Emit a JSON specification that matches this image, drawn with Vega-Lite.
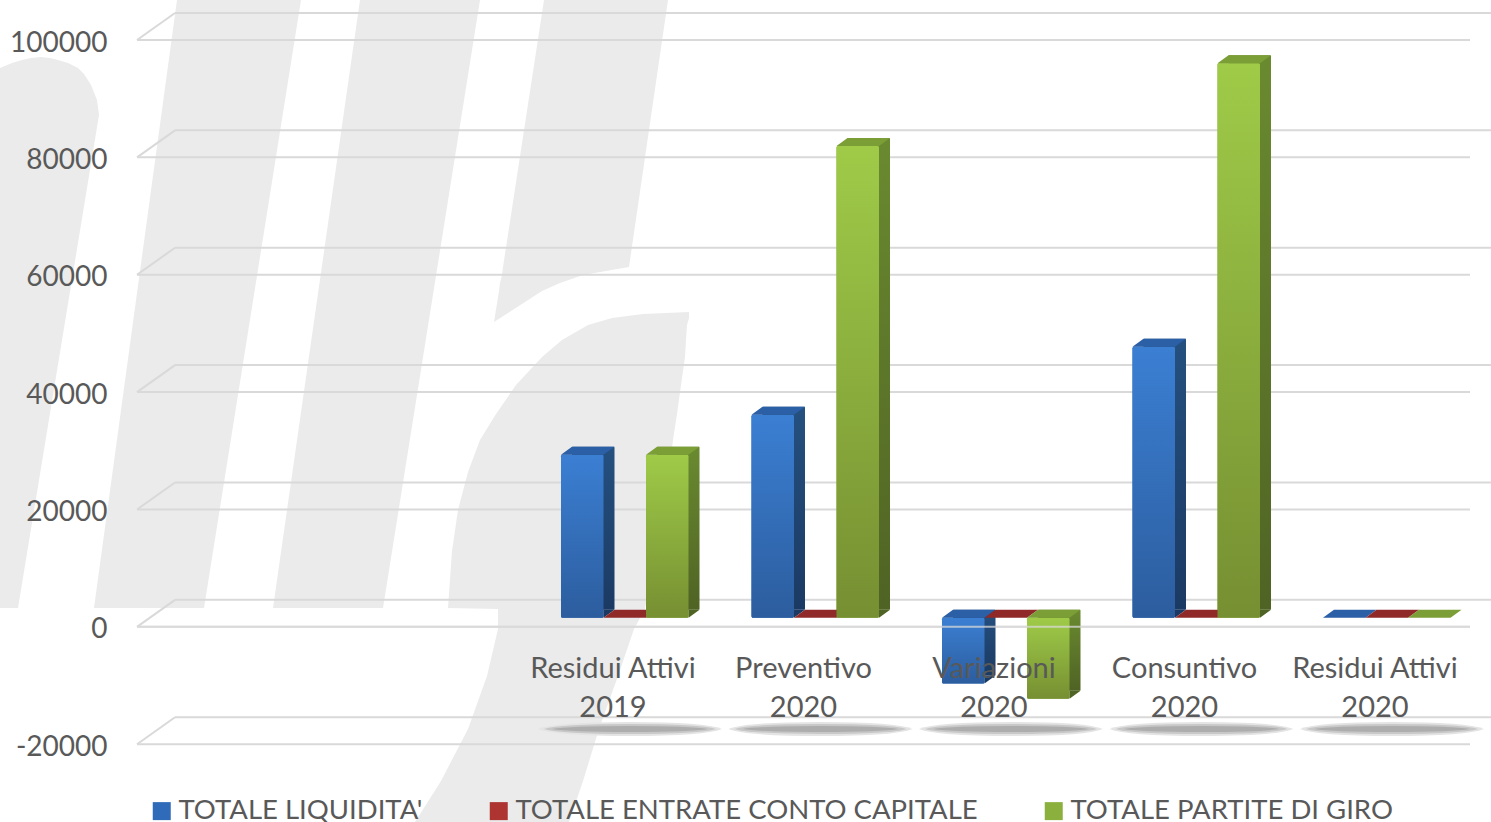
{
"$schema":"https://vega.github.io/schema/vega-lite/v6.json",
"width":1354,"height":735,
"autosize":{"type":"none"},
"padding":{"left":137,"top":0,"right":0,"bottom":87},
"background":"white",
"config":{"view":{"stroke":null},"font":"Lato"},
"datasets":{
"ticks":[{"tick":-20000},{"tick":0},{"tick":20000},{"tick":40000},{"tick":60000},{"tick":80000},{"tick":100000}],
"zero":[{"tick":0}],
"cats":[{"periodo":"Residui Attivi 2019","ombra":-18940},{"periodo":"Preventivo 2020","ombra":-18940},{"periodo":"Variazioni 2020","ombra":-18940},{"periodo":"Consuntivo 2020","ombra":-18940},{"periodo":"Residui Attivi 2020","ombra":-18940}],
"bars":[
{"periodo":"Residui Attivi 2019","serie":"TOTALE LIQUIDITA'","value":27800,"top":27800,"bottom":0},
{"periodo":"Residui Attivi 2019","serie":"TOTALE ENTRATE CONTO CAPITALE","value":0,"top":0,"bottom":0},
{"periodo":"Residui Attivi 2019","serie":"TOTALE PARTITE DI GIRO","value":27800,"top":27800,"bottom":0},
{"periodo":"Preventivo 2020","serie":"TOTALE LIQUIDITA'","value":34600,"top":34600,"bottom":0},
{"periodo":"Preventivo 2020","serie":"TOTALE ENTRATE CONTO CAPITALE","value":0,"top":0,"bottom":0},
{"periodo":"Preventivo 2020","serie":"TOTALE PARTITE DI GIRO","value":80400,"top":80400,"bottom":0},
{"periodo":"Variazioni 2020","serie":"TOTALE LIQUIDITA'","value":-11200,"top":0,"bottom":-11200},
{"periodo":"Variazioni 2020","serie":"TOTALE ENTRATE CONTO CAPITALE","value":0,"top":0,"bottom":0},
{"periodo":"Variazioni 2020","serie":"TOTALE PARTITE DI GIRO","value":-13800,"top":0,"bottom":-13800},
{"periodo":"Consuntivo 2020","serie":"TOTALE LIQUIDITA'","value":46200,"top":46200,"bottom":0},
{"periodo":"Consuntivo 2020","serie":"TOTALE ENTRATE CONTO CAPITALE","value":0,"top":0,"bottom":0},
{"periodo":"Consuntivo 2020","serie":"TOTALE PARTITE DI GIRO","value":94500,"top":94500,"bottom":0},
{"periodo":"Residui Attivi 2020","serie":"TOTALE LIQUIDITA'","value":0,"top":0,"bottom":0},
{"periodo":"Residui Attivi 2020","serie":"TOTALE ENTRATE CONTO CAPITALE","value":0,"top":0,"bottom":0},
{"periodo":"Residui Attivi 2020","serie":"TOTALE PARTITE DI GIRO","value":0,"top":0,"bottom":0}
],
"logo":[
{"s":"a","wy":57,"wx":41,"wx2":41},{"s":"a","wy":58,"wx":31,"wx2":50},{"s":"a","wy":60,"wx":22,"wx2":58},{"s":"a","wy":63,"wx":12,"wx2":68},{"s":"a","wy":68,"wx":0,"wx2":78},{"s":"a","wy":74,"wx":0,"wx2":84},{"s":"a","wy":85,"wx":0,"wx2":91},{"s":"a","wy":100,"wx":0,"wx2":97},{"s":"a","wy":115,"wx":0,"wx2":99},{"s":"a","wy":608,"wx":0,"wx2":18},
{"s":"b","wy":0,"wx":177,"wx2":301},{"s":"b","wy":608,"wx":94,"wx2":204},
{"s":"c","wy":0,"wx":360,"wx2":480},{"s":"c","wy":608,"wx":273,"wx2":383},
{"s":"d","wy":0,"wx":544,"wx2":668},{"s":"d","wy":267,"wx":503,"wx2":629},{"s":"d","wy":275,"wx":502,"wx2":583},{"s":"d","wy":283,"wx":500,"wx2":560},{"s":"d","wy":291,"wx":499,"wx2":542},{"s":"d","wy":322,"wx":494,"wx2":494},
{"s":"e","wy":312,"wx":689,"wx2":689},{"s":"e","wy":314,"wx":643,"wx2":689},{"s":"e","wy":318,"wx":612,"wx2":689},{"s":"e","wy":325,"wx":588,"wx2":687},{"s":"e","wy":340,"wx":562,"wx2":686},{"s":"e","wy":357,"wx":542,"wx2":685},{"s":"e","wy":385,"wx":516,"wx2":681},{"s":"e","wy":414,"wx":496,"wx2":677},{"s":"e","wy":440,"wx":480,"wx2":673},{"s":"e","wy":472,"wx":468,"wx2":669},{"s":"e","wy":510,"wx":458,"wx2":662},{"s":"e","wy":551,"wx":452,"wx2":657},{"s":"e","wy":608,"wx":448,"wx2":645},{"s":"e","wy":609,"wx":498,"wx2":645},{"s":"e","wy":629,"wx":498,"wx2":634},{"s":"e","wy":676,"wx":487,"wx2":618},{"s":"e","wy":729,"wx":468,"wx2":599},{"s":"e","wy":781,"wx":441,"wx2":583},{"s":"e","wy":822,"wx":415,"wx2":569}
]
},
"resolve":{"scale":{"x":"independent","y":"independent"},"axis":{"x":"independent","y":"independent"}},
"layer":[
{"data":{"name":"logo"},
 "mark":{"type":"area","orient":"horizontal","color":"#ebebeb","clip":false},
 "encoding":{
  "y":{"field":"wy","type":"quantitative","axis":null,"scale":{"domain":[0,735],"range":[0,735],"nice":false,"zero":false}},
  "x":{"field":"wx","type":"quantitative","axis":null,"stack":null,"scale":{"domain":[137,1491],"range":[0,1354],"nice":false,"zero":false}},
  "x2":{"field":"wx2"},
  "detail":{"field":"s"}
 }},
{"data":{"name":"ticks"},
 "encoding":{
  "y":{"field":"tick","type":"quantitative","scale":{"domain":[-20000,100000],"range":[735.2,31],"nice":false,"zero":false},
    "axis":{"title":null,"orient":"left","values":[-20000,0,20000,40000,60000,80000,100000],"labelExpr":"''+datum.value","domain":false,"ticks":false,"grid":false,"labelPadding":30,"labelOffset":12,"labelFontSize":28,"labelColor":"#595959","labelFont":"Lato","zindex":1}}
 },
 "layer":[
  {"mark":{"type":"rule","color":"#d9d9d9","strokeWidth":2,"yOffset":-18},
   "encoding":{"x":{"datum":175,"type":"quantitative","axis":null,"scale":{"domain":[137,1491],"range":[0,1354],"nice":false,"zero":false}},"x2":{"datum":1491}}},
  {"mark":{"type":"rule","color":"#d9d9d9","strokeWidth":2,"yOffset":9},
   "encoding":{"x":{"datum":137,"type":"quantitative","axis":null,"scale":{"domain":[137,1491],"range":[0,1354],"nice":false,"zero":false}},"x2":{"datum":1470}}},
  {"mark":{"type":"point","shape":"M0,0 L38,-27","size":4,"filled":false,"stroke":"#d9d9d9","strokeWidth":2,"opacity":1,"yOffset":9},
   "encoding":{"x":{"datum":137,"type":"quantitative","axis":null,"scale":{"domain":[137,1491],"range":[0,1354],"nice":false,"zero":false}}}}
 ]},
{"resolve":{"scale":{"xOffset":"independent"}},
 "encoding":{
  "x":{"field":"periodo","type":"nominal","sort":null,"scale":{"type":"band","domain":["Residui Attivi 2019","Preventivo 2020","Variazioni 2020","Consuntivo 2020","Residui Attivi 2020"],"range":[380.75,1333.25],"paddingInner":0,"paddingOuter":0},
    "axis":{"title":null,"orient":"bottom","offset":-81,"domain":false,"ticks":false,"grid":false,"labelAngle":0,"labelAlign":"center","labelBaseline":"top","labelFontSize":29,"labelColor":"#595959","labelFont":"Lato","labelLineHeight":39,"labelPadding":0,"labelLimit":400,"zindex":1,"labelExpr":"[slice(datum.label,0,length(datum.label)-5), slice(datum.label,-4)]"}},
  "y":{"type":"quantitative","axis":null,"scale":{"domain":[-20000,100000],"range":[735.2,31],"nice":false,"zero":false}}
 },
 "layer":[
  {"data":{"name":"cats"},
   "mark":{"type":"point","shape":"M-92,0 Q-75,-7 0,-7 Q75,-7 92,0 Q75,7 0,7 Q-75,7 -92,0 Z","size":4,"filled":true,"color":"#e4e4e4","opacity":1,"xOffset":17},
   "encoding":{"y":{"field":"ombra","type":"quantitative"}}},
  {"data":{"name":"cats"},
   "mark":{"type":"point","shape":"M-86,0 Q-70,-5 0,-5 Q70,-5 86,0 Q70,5 0,5 Q-70,5 -86,0 Z","size":4,"filled":true,"color":"#c8c8c8","opacity":1,"xOffset":17},
   "encoding":{"y":{"field":"ombra","type":"quantitative"}}},
  {"data":{"name":"cats"},
   "mark":{"type":"point","shape":"M-78,0 Q-60,-3 0,-3 Q60,-3 78,0 Q60,3 0,3 Q-60,3 -78,0 Z","size":4,"filled":true,"color":"#adadad","opacity":1,"xOffset":17},
   "encoding":{"y":{"field":"ombra","type":"quantitative"}}},
  {"data":{"name":"bars"},
   "mark":{"type":"bar","cornerRadius":1.5},
   "encoding":{
    "xOffset":{"field":"serie","type":"nominal","sort":null,"scale":{"type":"band","domain":["TOTALE LIQUIDITA'","TOTALE ENTRATE CONTO CAPITALE","TOTALE PARTITE DI GIRO"],"range":[11.75,202.25],"paddingOuter":0.741,"paddingInner":0}},
    "y":{"field":"value","type":"quantitative","stack":null},
    "color":{"field":"serie","type":"nominal","scale":{"domain":["TOTALE LIQUIDITA'","TOTALE ENTRATE CONTO CAPITALE","TOTALE PARTITE DI GIRO"],"range":["#2f6bb8","#ad3430","#8cb03e"]},
      "legend":{"title":null,"orient":"none","legendX":11,"legendY":797,"direction":"horizontal","columns":3,"columnPadding":62,"symbolType":"square","symbolSize":324,"symbolStrokeWidth":0,"labelFontSize":27.5,"labelColor":"#595959","labelFont":"Lato","labelLimit":600,"labelOffset":3}}
   }},
  {"data":{"name":"bars"},
   "transform":[{"filter":"datum.serie === \"TOTALE LIQUIDITA'\" && datum.value !== 0"}],
   "mark":{"type":"bar","yOffset":-8,"cornerRadius":1,"color":{"gradient":"linear","x1":0,"y1":0,"x2":0,"y2":1,"stops":[{"offset":0,"color":"#25507f"},{"offset":1,"color":"#1b3a63"}]}},
   "encoding":{
    "xOffset":{"field":"serie","type":"nominal","sort":null,"scale":{"type":"band","domain":["TOTALE LIQUIDITA'","TOTALE ENTRATE CONTO CAPITALE","TOTALE PARTITE DI GIRO"],"range":[22.75,213.25],"paddingOuter":0.741,"paddingInner":0}},
    "y":{"field":"value","type":"quantitative","stack":null},
    "y2":{"datum":1365}
   }},
  {"data":{"name":"bars"},
   "transform":[{"filter":"datum.serie === \"TOTALE LIQUIDITA'\" && datum.value !== 0"}],
   "mark":{"type":"point","shape":"M21.25,0 L21.25,-8 L32.25,-8 Z","size":4,"filled":true,"opacity":1,"color":"#1b3a63"},
   "encoding":{
    "xOffset":{"field":"serie","type":"nominal","sort":null,"scale":{"type":"band","domain":["TOTALE LIQUIDITA'","TOTALE ENTRATE CONTO CAPITALE","TOTALE PARTITE DI GIRO"],"range":[11.75,202.25],"paddingOuter":0.741,"paddingInner":0}},
    "y":{"field":"bottom","type":"quantitative"}
   }},
  {"data":{"name":"bars"},
   "transform":[{"filter":"datum.serie === \"TOTALE LIQUIDITA'\""}],
   "mark":{"type":"bar","cornerRadius":1.5,"color":{"gradient":"linear","x1":0,"y1":0,"x2":0,"y2":1,"stops":[{"offset":0,"color":"#3b7fd3"},{"offset":1,"color":"#2c5d9e"}]}},
   "encoding":{
    "xOffset":{"field":"serie","type":"nominal","sort":null,"scale":{"type":"band","domain":["TOTALE LIQUIDITA'","TOTALE ENTRATE CONTO CAPITALE","TOTALE PARTITE DI GIRO"],"range":[11.75,202.25],"paddingOuter":0.741,"paddingInner":0}},
    "y":{"field":"value","type":"quantitative","stack":null}
   }},
  {"data":{"name":"bars"},
   "transform":[{"filter":"datum.serie === \"TOTALE LIQUIDITA'\""}],
   "mark":{"type":"point","shape":"M-21.25,0 L21.25,0 L32.25,-8 L-10.25,-8 Z","size":4,"filled":true,"opacity":1,"color":"#2b5fa6"},
   "encoding":{
    "xOffset":{"field":"serie","type":"nominal","sort":null,"scale":{"type":"band","domain":["TOTALE LIQUIDITA'","TOTALE ENTRATE CONTO CAPITALE","TOTALE PARTITE DI GIRO"],"range":[11.75,202.25],"paddingOuter":0.741,"paddingInner":0}},
    "y":{"field":"top","type":"quantitative"}
   }},
  {"data":{"name":"bars"},
   "transform":[{"filter":"datum.serie === 'TOTALE ENTRATE CONTO CAPITALE'"}],
   "mark":{"type":"point","shape":"M-21.25,0 L21.25,0 L32.25,-8 L-10.25,-8 Z","size":4,"filled":true,"opacity":1,"color":"#8f2a28"},
   "encoding":{
    "xOffset":{"field":"serie","type":"nominal","sort":null,"scale":{"type":"band","domain":["TOTALE LIQUIDITA'","TOTALE ENTRATE CONTO CAPITALE","TOTALE PARTITE DI GIRO"],"range":[11.75,202.25],"paddingOuter":0.741,"paddingInner":0}},
    "y":{"field":"top","type":"quantitative"}
   }},
  {"data":{"name":"bars"},
   "transform":[{"filter":"datum.serie === 'TOTALE PARTITE DI GIRO' && datum.value !== 0"}],
   "mark":{"type":"bar","yOffset":-8,"cornerRadius":1,"color":{"gradient":"linear","x1":0,"y1":0,"x2":0,"y2":1,"stops":[{"offset":0,"color":"#6a8a30"},{"offset":1,"color":"#4f6324"}]}},
   "encoding":{
    "xOffset":{"field":"serie","type":"nominal","sort":null,"scale":{"type":"band","domain":["TOTALE LIQUIDITA'","TOTALE ENTRATE CONTO CAPITALE","TOTALE PARTITE DI GIRO"],"range":[22.75,213.25],"paddingOuter":0.741,"paddingInner":0}},
    "y":{"field":"value","type":"quantitative","stack":null},
    "y2":{"datum":1365}
   }},
  {"data":{"name":"bars"},
   "transform":[{"filter":"datum.serie === 'TOTALE PARTITE DI GIRO' && datum.value !== 0"}],
   "mark":{"type":"point","shape":"M21.25,0 L21.25,-8 L32.25,-8 Z","size":4,"filled":true,"opacity":1,"color":"#4f6324"},
   "encoding":{
    "xOffset":{"field":"serie","type":"nominal","sort":null,"scale":{"type":"band","domain":["TOTALE LIQUIDITA'","TOTALE ENTRATE CONTO CAPITALE","TOTALE PARTITE DI GIRO"],"range":[11.75,202.25],"paddingOuter":0.741,"paddingInner":0}},
    "y":{"field":"bottom","type":"quantitative"}
   }},
  {"data":{"name":"bars"},
   "transform":[{"filter":"datum.serie === 'TOTALE PARTITE DI GIRO'"}],
   "mark":{"type":"bar","cornerRadius":1.5,"color":{"gradient":"linear","x1":0,"y1":0,"x2":0,"y2":1,"stops":[{"offset":0,"color":"#9fcb48"},{"offset":1,"color":"#768f32"}]}},
   "encoding":{
    "xOffset":{"field":"serie","type":"nominal","sort":null,"scale":{"type":"band","domain":["TOTALE LIQUIDITA'","TOTALE ENTRATE CONTO CAPITALE","TOTALE PARTITE DI GIRO"],"range":[11.75,202.25],"paddingOuter":0.741,"paddingInner":0}},
    "y":{"field":"value","type":"quantitative","stack":null}
   }},
  {"data":{"name":"bars"},
   "transform":[{"filter":"datum.serie === 'TOTALE PARTITE DI GIRO'"}],
   "mark":{"type":"point","shape":"M-21.25,0 L21.25,0 L32.25,-8 L-10.25,-8 Z","size":4,"filled":true,"opacity":1,"color":"#7c9e36"},
   "encoding":{
    "xOffset":{"field":"serie","type":"nominal","sort":null,"scale":{"type":"band","domain":["TOTALE LIQUIDITA'","TOTALE ENTRATE CONTO CAPITALE","TOTALE PARTITE DI GIRO"],"range":[11.75,202.25],"paddingOuter":0.741,"paddingInner":0}},
    "y":{"field":"top","type":"quantitative"}
   }}
 ]},
{"data":{"name":"zero"},
 "mark":{"type":"rule","color":"#d9d9d9","strokeWidth":2,"yOffset":9,"opacity":0.75},
 "encoding":{
  "y":{"field":"tick","type":"quantitative","axis":null,"scale":{"domain":[-20000,100000],"range":[735.2,31],"nice":false,"zero":false}},
  "x":{"datum":137,"type":"quantitative","axis":null,"scale":{"domain":[137,1491],"range":[0,1354],"nice":false,"zero":false}},"x2":{"datum":1470}
 }}
]
}
